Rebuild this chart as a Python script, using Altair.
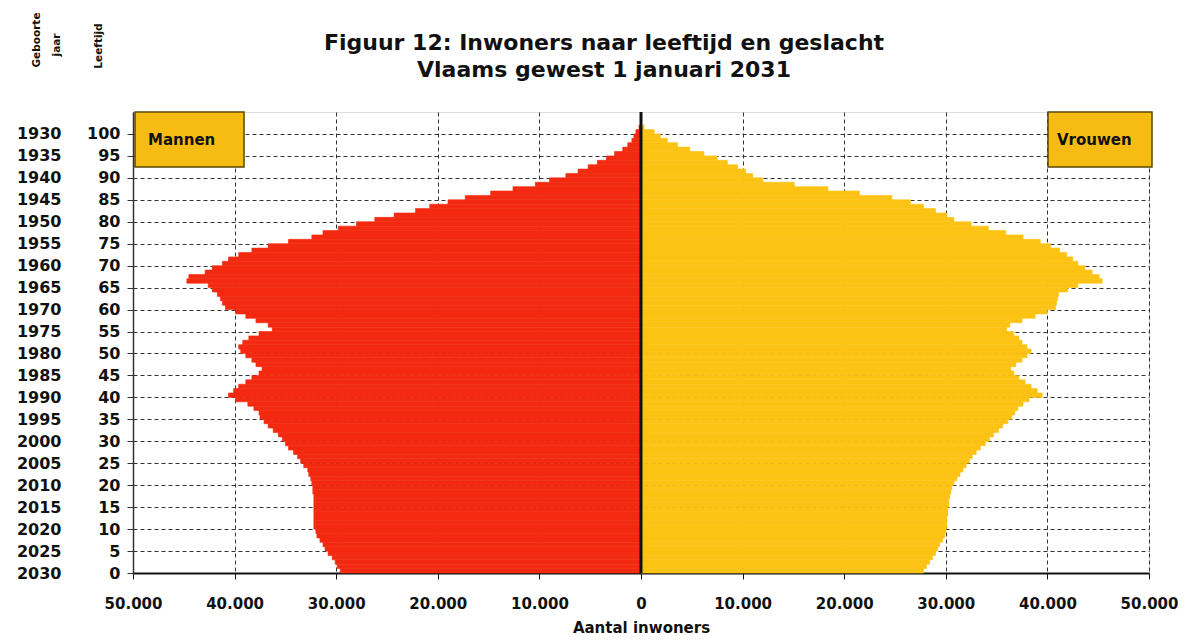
import altair as alt
import pandas as pd

# ---------------- data ----------------
ages = list(range(0, 102))
men = [29600, 29900, 30100, 30400, 30800, 31100, 31300, 31600, 31900, 32000,
       32200, 32200, 32200, 32200, 32200, 32200, 32200, 32200, 32300, 32300,
       32400, 32500, 32700, 32800, 33200, 33500, 33800, 34200, 34700, 35000,
       35300, 35700, 36200, 36700, 37100, 37500, 37600, 38100, 38700, 39900,
       40600, 40100, 39600, 38900, 38300, 37600, 37300, 37900, 38300, 38900,
       39400, 39600, 39200, 38600, 37600, 36300, 36700, 37900, 38900, 39900,
       40900, 41200, 41400, 41700, 42200, 42600, 44700, 44500, 42900, 42200,
       41200, 40600, 39600, 38300, 36700, 34700, 32400, 31300, 29800, 28000,
       26200, 24300, 22200, 20800, 19000, 17300, 14800, 12600, 10400, 9000,
       7400, 6200, 5200, 4300, 3400, 2600, 1800, 1300, 900, 700,
       500, 200]
women = [27800, 28100, 28400, 28700, 29000, 29200, 29400, 29700, 29900, 30000,
         30100, 30100, 30100, 30200, 30200, 30300, 30300, 30400, 30500, 30600,
         30800, 31100, 31400, 31700, 32000, 32300, 32600, 33000, 33400, 33900,
         34300, 34700, 35200, 35600, 36100, 36500, 36800, 37100, 37600, 38200,
         39500, 39000, 38400, 37800, 37200, 36700, 36400, 36900, 37500, 38000,
         38400, 38000, 37500, 37200, 36700, 36000, 36300, 37500, 38800, 40000,
         40800, 40900, 41000, 41100, 42000, 43000, 45400, 45100, 44400, 43700,
         43000, 42500, 41900, 41200, 40300, 39300, 37600, 35900, 34200, 32500,
         30800, 30100, 29000, 27800, 26500, 24700, 21500, 18400, 15100, 12000,
         11000, 10300, 9500, 8500, 7500, 6200, 4800, 3600, 2600, 1900,
         1300, 300]
sexes = ["Mannen", "Vrouwen"]
x_ticks = [-50000, -40000, -30000, -20000, -10000, 0, 10000, 20000, 30000, 40000, 50000]
y_ticks = list(range(0, 101, 5))
reference_year = 2030
title_lines = ["Figuur 12: Inwoners naar leeftijd en geslacht",
               "Vlaams gewest 1 januari 2031"]
x_title = "Aantal inwoners"
corner_labels = ["Geboorte", "jaar", "Leeftijd"]

# ---------------- styles ----------------
FONT = "DejaVu Sans"
RED = "#F42A10"
GOLD = "#FCC314"
BOX = "#F6BC14"
BG = "#FFF9A0"
INK = "#111111"
W, H = 1016, 461
PAD_L, PAD_T, PAD_R, PAD_B = 125, 104, 29, 65

rows = []
for a, m, w in zip(ages, men, women):
    rows.append({"age": a, "top": a + 1, "sex": sexes[0], "value": -m, "zero": 0})
    rows.append({"age": a, "top": a + 1, "sex": sexes[1], "value": w, "zero": 0})
df = pd.DataFrame(rows)

xscale = alt.Scale(domain=[-50000, 50000], nice=False, zero=False)
yscale = alt.Scale(domain=[0, 105], nice=False, zero=False)
cscale = alt.Scale(domain=sexes, range=[RED, GOLD])

bars = alt.Chart(df).mark_rect(strokeWidth=0.6).encode(
    x=alt.X("value:Q", scale=xscale,
            axis=alt.Axis(values=x_ticks,
                          labelExpr="replace(format(abs(datum.value), ','), ',', '.')",
                          title=x_title, grid=True, gridDash=[4, 3], gridColor="#333",
                          gridWidth=1, domainColor=INK, domainWidth=2, tickColor=INK,
                          tickSize=6, labelFont=FONT, labelFontWeight="bold",
                          labelFontSize=15, labelColor=INK, labelPadding=17,
                          titleFont=FONT, titleFontWeight="bold", titleFontSize=15,
                          titleColor=INK, titlePadding=9, labelFlush=False)),
    x2="zero:Q",
    y=alt.Y("age:Q", scale=yscale,
            axis=alt.Axis(values=y_ticks, title=None, grid=True, gridDash=[4, 3],
                          gridColor="#333", gridWidth=1, domainColor="#333",
                          domainWidth=1.5, tickColor="#333", tickSize=6,
                          labelFont=FONT, labelFontWeight="bold", labelFontSize=16,
                          labelColor=INK, labelPadding=7)),
    y2="top:Q",
    color=alt.Color("sex:N", scale=cscale, legend=None),
    stroke=alt.Stroke("sex:N", scale=cscale, legend=None),
)

years_axis = alt.Chart(pd.DataFrame({"age": y_ticks})).mark_point(opacity=0).encode(
    y=alt.Y("age:Q", scale=yscale,
            axis=alt.Axis(orient="left", offset=70, values=y_ticks, title=None,
                          labelExpr=f"toString({reference_year} - datum.value)",
                          domain=False, ticks=False, grid=False,
                          labelFont=FONT, labelFontWeight="bold", labelFontSize=16,
                          labelColor=INK, labelPadding=2)),
)

zero_line = alt.Chart(pd.DataFrame({"zero": [0]})).mark_rule(
    color=INK, strokeWidth=3).encode(x=alt.X("zero:Q", scale=xscale))


def legend_box(label, x0, x1, tx):
    d = pd.DataFrame({"t": [label]})
    box = alt.Chart(d).mark_rect(fill=BOX, stroke="#5a4800", strokeWidth=1.5).encode(
        x=alt.value(x0), x2=alt.value(x1), y=alt.value(0), y2=alt.value(55))
    txt = alt.Chart(d).mark_text(font=FONT, fontWeight="bold", fontSize=15, color=INK,
                                 align="left", baseline="middle").encode(
        text="t:N", x=alt.value(tx), y=alt.value(28))
    return box + txt


box_m = legend_box(sexes[0], 2, 111, 15)
box_v = legend_box(sexes[1], W - 101, W + 3, W - 92)

layers = [bars, years_axis, zero_line, box_m, box_v]

corner_pos = [(-96, -72), (-76, -67), (-34, -66)]
for lab, (cx, cy) in zip(corner_labels, corner_pos):
    layers.append(alt.Chart(pd.DataFrame({"t": [lab]})).mark_text(
        font=FONT, fontWeight="bold", fontSize=10.5, color=INK, angle=270,
        align="center", baseline="middle").encode(
        text="t:N", x=alt.value(cx), y=alt.value(cy)))

title_pos = [-62, -35]
for line, ty in zip(title_lines, title_pos):
    layers.append(alt.Chart(pd.DataFrame({"t": [line]})).mark_text(
        font=FONT, fontWeight="bold", fontSize=22, color=INK,
        align="center", baseline="alphabetic").encode(
        text="t:N", x=alt.value(471), y=alt.value(ty)))

chart = alt.layer(*layers).resolve_scale(
    y="independent"
).properties(
    width=W, height=H,
    autosize=alt.AutoSizeParams(type="none"),
    padding={"left": PAD_L, "top": PAD_T, "right": PAD_R, "bottom": PAD_B},
).configure_view(fill=BG, stroke="#444", strokeWidth=1).configure(background="white")

chart.save("out.html", embed_options={"renderer": "svg", "actions": False})
